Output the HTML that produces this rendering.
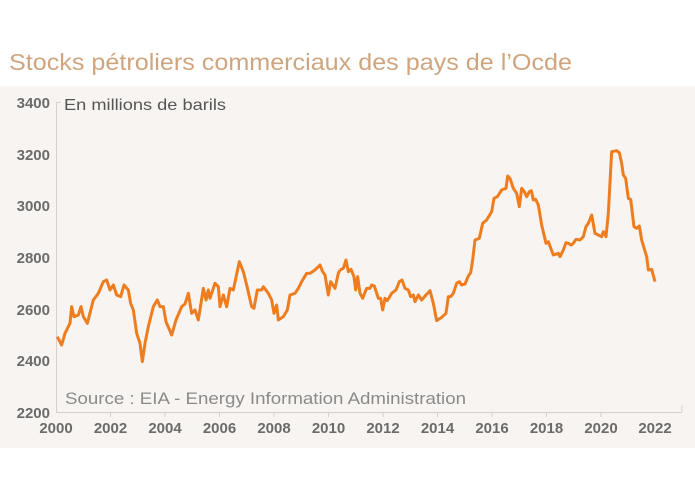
<!DOCTYPE html>
<html><head><meta charset="utf-8"><style>
body{margin:0;background:#fff;width:695px;height:483px;overflow:hidden;font-family:"Liberation Sans",sans-serif}
</style></head><body>
<svg width="695" height="483" xmlns="http://www.w3.org/2000/svg" style="position:absolute;left:0;top:0">
<rect x="0" y="86" width="695" height="362" fill="#f8f4f1"/>
<text x="9" y="70" font-size="23" fill="#cfa57f" textLength="563" lengthAdjust="spacingAndGlyphs" font-family="Liberation Sans,sans-serif">Stocks pétroliers commerciaux des pays de l’Ocde</text>
<line x1="56.5" y1="102" x2="56.5" y2="412" stroke="#d4d0cc" stroke-width="1"/>
<line x1="56" y1="412.5" x2="682" y2="412.5" stroke="#d4d0cc" stroke-width="1"/>
<g stroke="#d4d0cc">
<line x1="56" y1="102.5" x2="61" y2="102.5"/>
<line x1="110.5" y1="412" x2="110.5" y2="417"/><line x1="165" y1="412" x2="165" y2="417"/><line x1="219.5" y1="412" x2="219.5" y2="417"/><line x1="274" y1="412" x2="274" y2="417"/><line x1="328.5" y1="412" x2="328.5" y2="417"/><line x1="383" y1="412" x2="383" y2="417"/><line x1="437.5" y1="412" x2="437.5" y2="417"/><line x1="492" y1="412" x2="492" y2="417"/><line x1="546.5" y1="412" x2="546.5" y2="417"/><line x1="601" y1="412" x2="601" y2="417"/><line x1="682" y1="405" x2="682" y2="412"/>
</g>
<g font-size="15" font-weight="bold" fill="#6b6b6b" text-anchor="end">
<text x="50" y="108">3400</text><text x="50" y="160">3200</text><text x="50" y="211">3000</text><text x="50" y="263">2800</text><text x="50" y="315">2600</text><text x="50" y="366">2400</text><text x="50" y="418">2200</text>
</g>
<g font-size="15" font-weight="bold" fill="#6b6b6b" text-anchor="middle">
<text x="56" y="433">2000</text><text x="110.5" y="433">2002</text><text x="165" y="433">2004</text><text x="219.5" y="433">2006</text><text x="274" y="433">2008</text><text x="328.5" y="433">2010</text><text x="383" y="433">2012</text><text x="437.5" y="433">2014</text><text x="492" y="433">2016</text><text x="546.5" y="433">2018</text><text x="601" y="433">2020</text><text x="655" y="433">2022</text>
</g>
<text x="64" y="110" font-size="16" fill="#555" textLength="162" lengthAdjust="spacingAndGlyphs">En millions de barils</text>
<text x="65" y="404" font-size="17" fill="#8a8a8a" textLength="401" lengthAdjust="spacingAndGlyphs">Source : EIA - Energy Information Administration</text>
<g transform="translate(0,80) scale(0.33333)" fill="none" stroke="#ee7d1f" stroke-width="9" stroke-linejoin="round">
<polyline points="172,770 185,795 195,760 210,730 215,680 222,710 235,705 243,680 250,710 262,730 280,660 295,640 310,605 320,600 330,630 340,615 350,645 362,650 372,615 385,630 392,670 400,690 410,760 420,790 427,845 435,790 445,740 460,680 472,660 480,680 490,680 498,725 515,765 528,720 545,680 555,672 565,640 575,700 585,690 595,720 610,625 618,660 625,630 630,655 645,610 655,620 660,680 670,645 680,680 690,625 700,630 718,545 730,575 740,615 755,680 762,685 772,630 785,630 790,620 805,640 815,660 822,700 830,675 835,720 850,710 862,690 870,645 885,640 895,625 905,605 920,580 930,580 945,570 960,555 968,575 975,585 985,645 992,605 1005,625 1015,580 1020,570"/>
</g>
<g transform="translate(340,80) scale(0.33333)" fill="none" stroke="#ee7d1f" stroke-width="9" stroke-linejoin="round">
<polyline points="0,570 10,565 18,540 25,575 33,568 42,590 47,630 53,590 60,640 68,655 80,625 90,625 95,615 103,618 115,655 122,655 128,690 135,655 142,662 155,640 168,630 178,605 186,600 195,625 205,630 212,650 220,645 225,665 235,645 245,660 258,645 270,632 280,670 290,722 305,712 318,700 325,650 332,650 340,640 350,610 358,605 365,615 375,612 385,588 392,578 398,540 405,480 418,475 428,430 440,420 455,395 462,355 472,350 485,330 498,325 503,288 510,295 520,325 530,340 538,380 545,325 553,335 560,350 568,335 574,332 580,360 587,358 595,375 605,435 618,490 625,485 640,525 655,520 660,530 670,510 678,488 685,490 693,495 700,490 708,478 720,480 730,470 738,440 745,430 755,405 765,460 775,465 785,470 790,455 798,470 805,400 815,215 830,212 838,218 845,250 850,285 857,295 865,355 872,358 882,440 890,445 898,438 905,480 920,530 925,570 935,568 945,605"/>
</g>
</svg>
</body></html>
